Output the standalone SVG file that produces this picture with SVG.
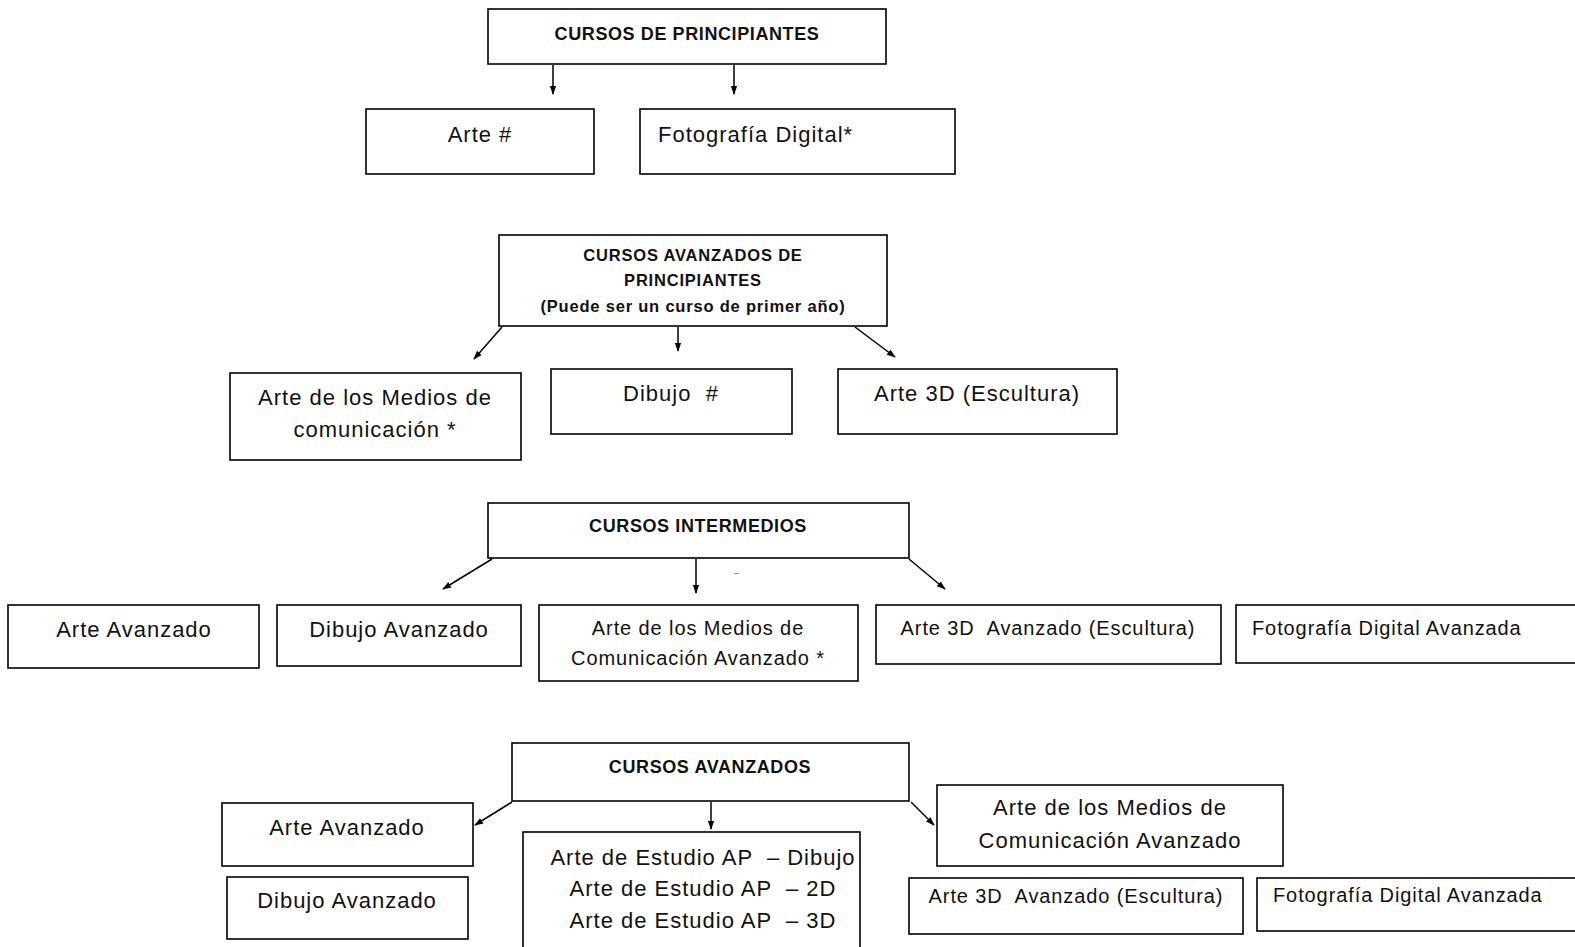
<svg xmlns="http://www.w3.org/2000/svg" width="1575" height="947" viewBox="0 0 1575 947">
<style>
rect{fill:#fff;stroke:#000;stroke-width:1.6}
text{font-family:"Liberation Sans",Arial,sans-serif;fill:#111;font-size:22px;letter-spacing:1px;text-anchor:middle;white-space:pre}
.h{font-weight:bold;font-size:18px;letter-spacing:0.6px}
.h2{font-weight:bold;font-size:16.5px;letter-spacing:0.8px}
.s{font-size:20px;letter-spacing:0.9px}
.l{text-anchor:start;font-size:20px;letter-spacing:0.9px}
.c line{stroke:#000;stroke-width:1.5;marker-end:url(#a)}
</style>
<defs>
<marker id="a" viewBox="0 0 10 10" refX="9" refY="5" markerWidth="9" markerHeight="9" orient="auto" markerUnits="userSpaceOnUse"><path d="M0,1.5 L10,5 L0,8.5 Z" fill="#000"/></marker>
</defs>
<g class="c" id="connectors">
<line x1="553" y1="65" x2="553" y2="94"/>
<line x1="734" y1="65" x2="734" y2="94"/>
<line x1="502" y1="327" x2="474" y2="359"/>
<line x1="678" y1="327" x2="678" y2="351"/>
<line x1="855" y1="327" x2="895" y2="357"/>
<line x1="492" y1="559" x2="443" y2="589"/>
<line x1="696" y1="559" x2="696" y2="593"/>
<line x1="909" y1="559" x2="945" y2="589"/>
<line x1="512" y1="802" x2="475" y2="825"/>
<line x1="711" y1="802" x2="711" y2="829"/>
<line x1="911" y1="802" x2="934" y2="825"/>
</g>
<rect x="734" y="573" width="5" height="1" style="fill:#999;stroke:none"/>
<g id="n1"><rect x="488" y="9" width="398" height="55"/><text class="h" x="687" y="40">CURSOS DE PRINCIPIANTES</text></g>
<g id="n2"><rect x="366" y="109" width="228" height="65"/><text x="480" y="142">Arte #</text></g>
<g id="n3"><rect x="640" y="109" width="315" height="65"/><text class="l" x="658" y="142" style="font-size:22px;letter-spacing:1px">Fotografía Digital*</text></g>
<g id="n4"><rect x="499" y="235" width="388" height="91"/><text class="h2" x="693" y="261">CURSOS AVANZADOS DE</text><text class="h2" x="693" y="286">PRINCIPIANTES</text><text class="h2" x="693" y="312">(Puede ser un curso de primer año)</text></g>
<g id="n5"><rect x="230" y="373" width="291" height="87"/><text x="375" y="405">Arte de los Medios de</text><text x="375" y="437">comunicación *</text></g>
<g id="n6"><rect x="551" y="369" width="241" height="65"/><text x="671" y="401">Dibujo  #</text></g>
<g id="n7"><rect x="838" y="369" width="279" height="65"/><text x="977" y="401">Arte 3D (Escultura)</text></g>
<g id="n8"><rect x="488" y="503" width="421" height="55"/><text class="h" x="698" y="532">CURSOS INTERMEDIOS</text></g>
<g id="n9"><rect x="8" y="605" width="251" height="63"/><text x="134" y="637">Arte Avanzado</text></g>
<g id="n10"><rect x="277" y="605" width="244" height="61"/><text x="399" y="637">Dibujo Avanzado</text></g>
<g id="n11"><rect x="539" y="605" width="319" height="76"/><text class="s" x="698" y="635">Arte de los Medios de</text><text class="s" x="698" y="665">Comunicación Avanzado *</text></g>
<g id="n12"><rect x="876" y="605" width="345" height="59"/><text class="s" x="1048" y="635">Arte 3D  Avanzado (Escultura)</text></g>
<g id="n13"><rect x="1236" y="605" width="345" height="58"/><text class="l" x="1252" y="635">Fotografía Digital Avanzada</text></g>
<g id="n14"><rect x="512" y="743" width="397" height="58"/><text class="h" x="710" y="773">CURSOS AVANZADOS</text></g>
<g id="n15"><rect x="222" y="803" width="251" height="63"/><text x="347" y="835">Arte Avanzado</text></g>
<g id="n16"><rect x="227" y="877" width="241" height="62"/><text x="347" y="908">Dibujo Avanzado</text></g>
<g id="n17"><rect x="523" y="832" width="337" height="125"/><text x="703" y="865">Arte de Estudio AP  – Dibujo</text><text x="703" y="896">Arte de Estudio AP  – 2D</text><text x="703" y="928">Arte de Estudio AP  – 3D</text></g>
<g id="n18"><rect x="937" y="785" width="346" height="81"/><text x="1110" y="815">Arte de los Medios de</text><text x="1110" y="848">Comunicación Avanzado</text></g>
<g id="n19"><rect x="909" y="878" width="334" height="56"/><text class="s" x="1076" y="903">Arte 3D  Avanzado (Escultura)</text></g>
<g id="n20"><rect x="1257" y="878" width="324" height="53"/><text class="l" x="1273" y="902">Fotografía Digital Avanzada</text></g>
</svg>
